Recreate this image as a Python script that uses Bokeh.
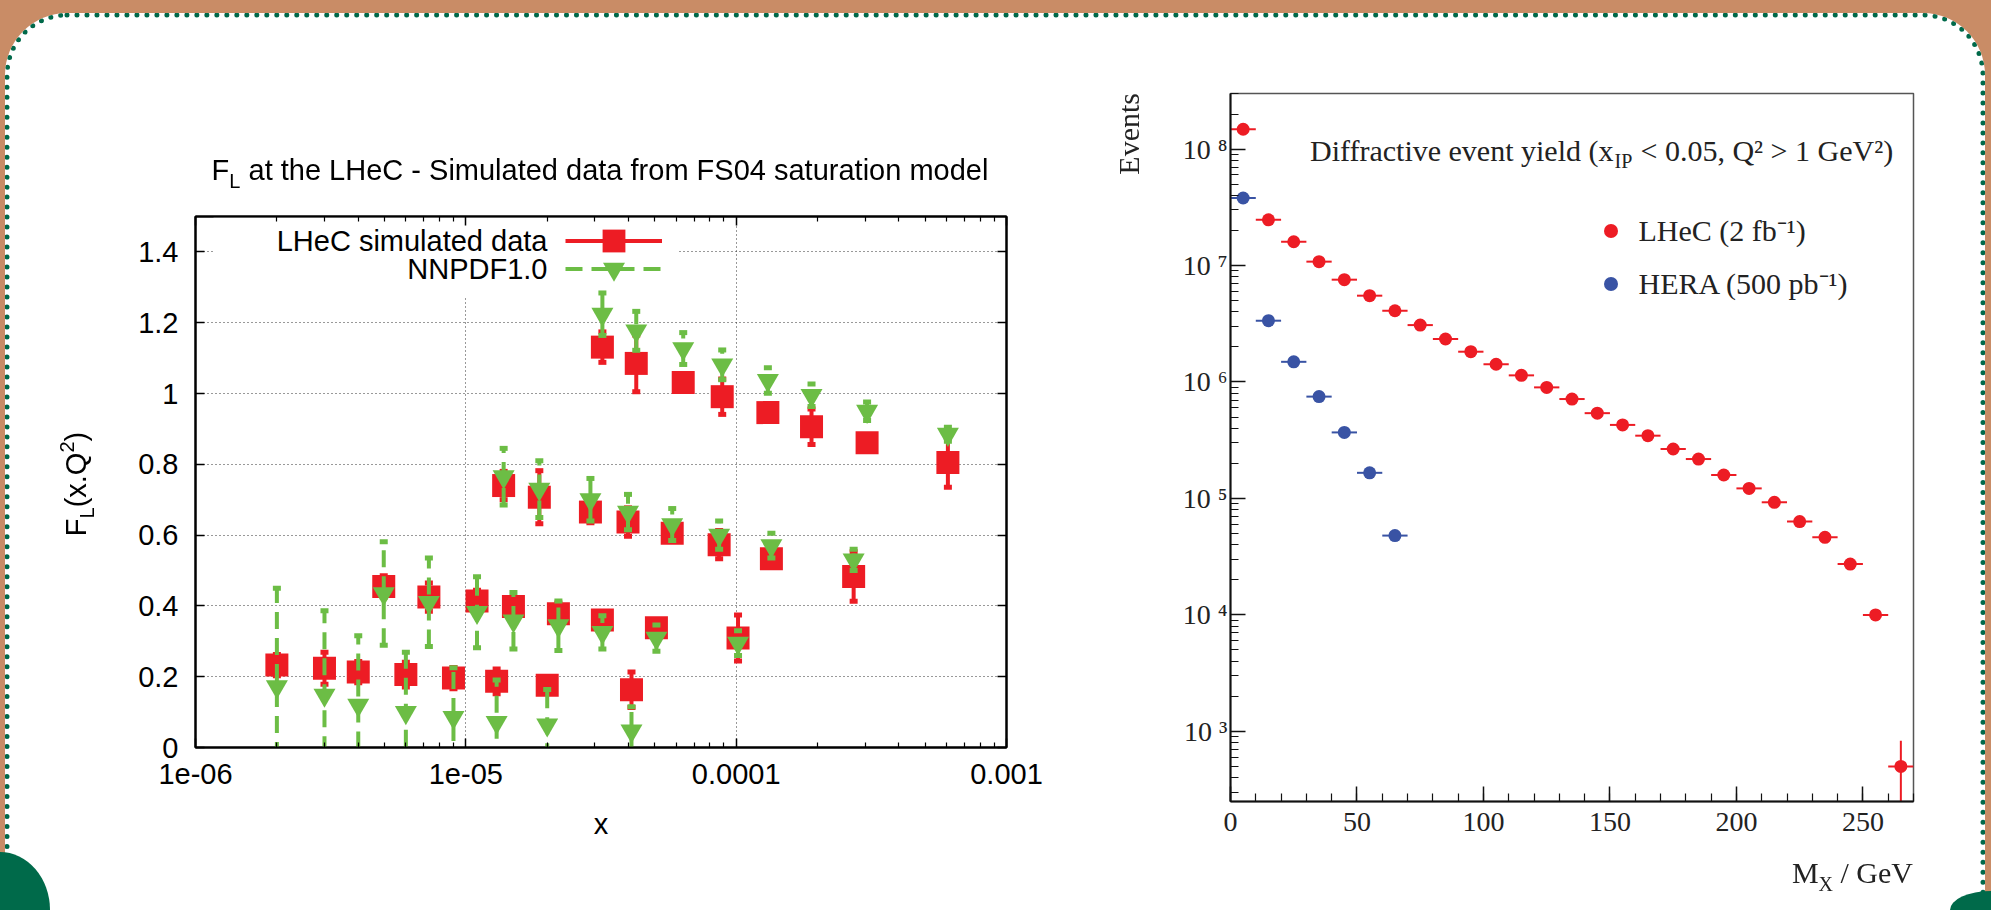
import numpy as np
from bokeh.plotting import figure
from bokeh.models import (LogAxis, LinearAxis, FixedTicker, CustomJSTickFormatter, Div,
                          Label, BoxAnnotation, Legend, LegendItem, ColumnDataSource, Range1d)
from bokeh.layouts import row, column
from bokeh.embed import file_html
from bokeh.resources import INLINE
from bokeh.core.properties import value

# ---------------- left chart: F_L at the LHeC ----------------
fl_x = [2.0e-6, 3.0e-6, 4.0e-6, 6.0e-6, 9.0e-6, 1.3e-5, 2.0e-5, 4.1e-5,
        4.97e-6, 7.3e-6, 1.1e-5, 1.5e-5, 2.2e-5, 3.2e-5, 5.07e-5, 1.016e-4,
        1.38e-5, 1.87e-5, 2.89e-5, 3.98e-5, 5.8e-5, 8.65e-5, 1.35e-4, 2.72e-4,
        3.2e-5, 4.27e-5, 6.37e-5, 8.88e-5, 1.31e-4, 1.9e-4, 3.05e-4, 6.07e-4]
lhec_fl = [0.233, 0.224, 0.213, 0.206, 0.196, 0.187, 0.176, 0.163,
           0.455, 0.425, 0.414, 0.398, 0.378, 0.360, 0.338, 0.309,
           0.740, 0.707, 0.665, 0.637, 0.605, 0.573, 0.533, 0.483,
           1.131, 1.085, 1.031, 0.991, 0.946, 0.906, 0.861, 0.805]
lhec_err = [0.030, 0.045, 0.030, 0.035, 0.030, 0.035, 0.020, 0.050,
            0.030, 0.040, 0.030, 0.020, 0.030, 0.020, 0.020, 0.065,
            0.040, 0.075, 0.030, 0.040, 0.020, 0.040, 0.020, 0.070,
            0.043, 0.080, 0.020, 0.050, 0.020, 0.050, 0.020, 0.070]
nnpdf_fl = [0.172, 0.148, 0.120, 0.099, 0.085, 0.071, 0.064, 0.047,
            0.435, 0.410, 0.382, 0.358, 0.344, 0.325, 0.309, 0.295,
            0.765, 0.730, 0.700, 0.665, 0.630, 0.600, 0.570, 0.530,
            1.224, 1.177, 1.127, 1.081, 1.037, 0.995, 0.950, 0.885]
nnpdf_err = [0.278, 0.238, 0.196, 0.170, 0.140, 0.120, 0.100, 0.068,
             0.146, 0.125, 0.100, 0.080, 0.070, 0.047, 0.037, 0.035,
             0.080, 0.080, 0.060, 0.050, 0.045, 0.040, 0.035, 0.030,
             0.060, 0.055, 0.045, 0.042, 0.036, 0.032, 0.026, 0.020]
fl_xticks = [1e-6, 1e-5, 1e-4, 1e-3]
fl_yticks = [0.0, 0.2, 0.4, 0.6, 0.8, 1.0, 1.2, 1.4]

# ---------------- right chart: diffractive event yield ----------------
mx_lhec = [5, 15, 25, 35, 45, 55, 65, 75, 85, 95, 105, 115, 125, 135, 145,
           155, 165, 175, 185, 195, 205, 215, 225, 235, 245, 255, 265]
events_lhec = [1.48e8, 2.47e7, 1.60e7, 1.08e7, 7.56e6, 5.51e6, 4.09e6, 3.08e6,
               2.34e6, 1.82e6, 1.42e6, 1.14e6, 8.99e5, 7.14e5, 5.40e5, 4.28e5,
               3.46e5, 2.66e5, 2.18e5, 1.59e5, 1.22e5, 9.27e4, 6.33e4, 4.64e4,
               2.73e4, 1.00e4, 500.0]
events_lhec_err = [0, 0, 0, 0, 0, 0, 0, 0, 0, 0, 0, 0, 0, 0, 0, 0, 0, 0, 0, 0,
                   0, 0, 0, 0, 0, 0, 330.0]
mx_hera = [5, 15, 25, 35, 45, 55, 65]
events_hera = [3.80e7, 3.36e6, 1.49e6, 7.49e5, 3.69e5, 1.66e5, 4.80e4]
bin_half_width = 5.0
mx_ticks = [0, 50, 100, 150, 200, 250]
ev_ticks = [1e3, 1e4, 1e5, 1e6, 1e7, 1e8]

SANS = "Liberation Sans"
SERIF = "Liberation Serif"
RED = "#ed1c24"
GREEN = "#6cbd45"
BLUE = "#3953a4"
TXT2 = "#222222"

OX, OY = 0, 0  # page origin of the layout (the page template has no body margin)


def add_label(p, frame_left, frame_bottom, xp, yp, text, font, size,
              align="left", color="black"):
    p.add_layout(Label(x=xp - frame_left, y=frame_bottom - yp,
                       x_units="screen", y_units="screen", text=text,
                       text_font=font, text_font_size=f"{size}px",
                       text_align=align, text_baseline="middle", text_color=color))


def key_sample(p, renderers, cx, cy, gw, gh, frame_left, frame_bottom):
    leg = Legend(items=[LegendItem(label=value(" "), renderers=renderers)],
                 location=(cx - frame_left - gw / 2, frame_bottom - cy - gh / 2),
                 glyph_width=gw, glyph_height=gh, padding=0, margin=0, spacing=0,
                 label_standoff=0, label_width=0, label_height=0,
                 label_text_font_size="1px", border_line_color=None,
                 background_fill_alpha=0.0)
    p.add_layout(leg)


# ======================= LEFT FIGURE =======================
W1, H1 = 1113, 905
L1, R1, T1 = 195, 107, 216
B1 = H1 - T1 - 531
p1 = figure(width=W1, height=H1, x_axis_type="log",
            x_range=Range1d(fl_xticks[0], fl_xticks[-1]), y_range=Range1d(0, 1.5),
            output_backend="svg", toolbar_location=None,
            min_border_left=L1, min_border_right=R1, min_border_top=T1, min_border_bottom=B1)
p1.frame_align = False
p1.background_fill_color = "white"
p1.border_fill_color = "white"
p1.outline_line_color = "black"
p1.outline_line_width = 2

fl_minor = [m * t for t in fl_xticks[:-1] for m in range(2, 10)]
xtick1 = FixedTicker(ticks=fl_xticks, minor_ticks=fl_minor)
ytick1 = FixedTicker(ticks=fl_yticks, minor_ticks=[])
empty_fmt = CustomJSTickFormatter(code="return '';")

xb = p1.xaxis[0]
xb.ticker = xtick1
xb.formatter = CustomJSTickFormatter(code="""
const e = Math.round(Math.log10(tick));
if (e <= -5) { return '1e-0' + (-e); }
return tick.toFixed(-e);
""")
yl = p1.yaxis[0]
yl.ticker = ytick1
yl.formatter = CustomJSTickFormatter(code="return (Math.round(tick*10)/10).toString();")

xt = LogAxis(ticker=xtick1, formatter=empty_fmt)
yr = LinearAxis(ticker=ytick1, formatter=empty_fmt)
p1.add_layout(xt, "above")
p1.add_layout(yr, "right")

for ax in (xb, xt, yl, yr):
    ax.axis_line_color = "black"
    ax.axis_line_width = 2
    ax.major_tick_in = 9
    ax.major_tick_out = 0
    ax.minor_tick_in = 5
    ax.minor_tick_out = 0
    ax.major_tick_line_color = "black"
    ax.major_tick_line_width = 1.5
    ax.minor_tick_line_color = "black"
    ax.minor_tick_line_width = 1.2
    ax.major_label_text_font = SANS
    ax.major_label_text_font_size = "29px"
    ax.major_label_text_color = "black"
xb.major_label_standoff = 16
yl.major_label_standoff = 17
xb.axis_label = "x"
xb.axis_label_text_font = SANS
xb.axis_label_text_font_size = "29px"
xb.axis_label_text_font_style = "normal"
xb.axis_label_text_color = "black"
xb.axis_label_standoff = 21

p1.xgrid.ticker = xtick1
p1.ygrid.ticker = ytick1
for g in (p1.xgrid, p1.ygrid):
    g.grid_line_color = "#333333"
    g.grid_line_width = 1
    g.grid_line_dash = "1 3"

FL1, FB1 = OX + L1, OY + T1 + 531  # frame left / bottom on the page
# white key box hiding the grid behind the key
p1.add_layout(BoxAnnotation(left=213 - FL1, right=678 - FL1, top=FB1 - 217, bottom=FB1 - 296,
                            left_units="screen", right_units="screen",
                            top_units="screen", bottom_units="screen",
                            fill_color="white", fill_alpha=1.0, line_color=None,
                            level="underlay"))

fx = np.array(fl_x)
lf, le = np.array(lhec_fl), np.array(lhec_err)
nf, ne = np.array(nnpdf_fl), np.array(nnpdf_err)
src_l = ColumnDataSource(dict(x=fx, y=lf, lo=lf - le, hi=lf + le))
src_n = ColumnDataSource(dict(x=fx, y=nf, lo=nf - ne, hi=nf + ne))

r_lseg = p1.segment(x0="x", y0="lo", x1="x", y1="hi", source=src_l, line_color=RED, line_width=4)
p1.scatter(x="x", y="lo", source=src_l, marker="dash", size=8, line_color=RED, line_width=5)
p1.scatter(x="x", y="hi", source=src_l, marker="dash", size=8, line_color=RED, line_width=5)
r_lsq = p1.scatter(x="x", y="y", source=src_l, marker="square", size=23, fill_color=RED, line_color=None)

r_nseg = p1.segment(x0="x", y0="lo", x1="x", y1="hi", source=src_n, line_color=GREEN,
                    line_width=4, line_dash="17 9")
p1.scatter(x="x", y="lo", source=src_n, marker="dash", size=8, line_color=GREEN, line_width=5)
p1.scatter(x="x", y="hi", source=src_n, marker="dash", size=8, line_color=GREEN, line_width=5)
r_ntri = p1.scatter(x="x", y="y", source=src_n, marker="inverted_triangle", size=22,
                    fill_color=GREEN, line_color=None)

key_sample(p1, [r_lseg, r_lsq], 613, 240, 97, 57, FL1, FB1)
key_sample(p1, [r_nseg, r_ntri], 613, 268, 97, 55, FL1, FB1)
add_label(p1, FL1, FB1, 547, 240, "LHeC simulated data", SANS, 29, align="right")
add_label(p1, FL1, FB1, 547, 268, "NNPDF1.0", SANS, 29, align="right")

# ======================= RIGHT FIGURE =======================
W2, H2 = 872, 905
L2, T2 = 117, 93
R2 = W2 - L2 - 683
B2 = H2 - T2 - 708
p2 = figure(width=W2, height=H2, y_axis_type="log",
            x_range=Range1d(0, 270), y_range=Range1d(250, 3.0e8),
            output_backend="svg", toolbar_location=None,
            min_border_left=L2, min_border_right=R2, min_border_top=T2, min_border_bottom=B2)
p2.frame_align = False
p2.background_fill_color = "white"
p2.border_fill_color = "white"
p2.outline_line_color = "#555555"
p2.outline_line_width = 1.5
p2.grid.visible = False

xa2, ya2 = p2.xaxis[0], p2.yaxis[0]
xa2.ticker = FixedTicker(ticks=mx_ticks, minor_ticks=list(range(0, 271, 10)))
ev_minor = [m * 10.0 ** e for e in range(2, 9) for m in range(2, 10)]
ya2.ticker = FixedTicker(ticks=ev_ticks, minor_ticks=ev_minor)
ya2.formatter = CustomJSTickFormatter(code="""
const s = {'0':'\u2070','1':'\u00b9','2':'\u00b2','3':'\u00b3','4':'\u2074','5':'\u2075',
           '6':'\u2076','7':'\u2077','8':'\u2078','9':'\u2079','-':'\u207b'};
const e = Math.round(Math.log10(tick));
return '10 ' + String(e).split('').map(c => s[c]).join('');
""")
for ax in (xa2, ya2):
    ax.axis_line_color = "#111111"
    ax.axis_line_width = 2
    ax.major_tick_in = 15
    ax.major_tick_out = 0
    ax.minor_tick_in = 8
    ax.minor_tick_out = 0
    ax.major_tick_line_color = "#111111"
    ax.major_tick_line_width = 1.5
    ax.minor_tick_line_color = "#111111"
    ax.minor_tick_line_width = 1.2
    ax.major_label_text_font = SERIF
    ax.major_label_text_font_size = "28px"
    ax.major_label_text_color = TXT2
xa2.major_label_standoff = 11
ya2.major_label_standoff = 3

ml = np.array(mx_lhec, dtype=float)
el = np.array(events_lhec)
ee = np.array(events_lhec_err)
mh = np.array(mx_hera, dtype=float)
eh = np.array(events_hera)
src_r = ColumnDataSource(dict(x=ml, y=el, x0=ml - bin_half_width, x1=ml + bin_half_width,
                              lo=np.maximum(el - ee, 1.0), hi=el + ee))
src_h = ColumnDataSource(dict(x=mh, y=eh, x0=mh - bin_half_width, x1=mh + bin_half_width))

p2.segment(x0="x0", y0="y", x1="x1", y1="y", source=src_r, line_color=RED, line_width=2)
p2.segment(x0="x", y0="lo", x1="x", y1="hi", source=src_r, line_color=RED, line_width=2)
r_red = p2.scatter(x="x", y="y", source=src_r, marker="circle", size=13,
                   fill_color=RED, line_color=None)
p2.segment(x0="x0", y0="y", x1="x1", y1="y", source=src_h, line_color=BLUE, line_width=2)
r_blue = p2.scatter(x="x", y="y", source=src_h, marker="circle", size=13,
                    fill_color=BLUE, line_color=None)

FL2, FB2 = OX + W1 + L2, OY + T2 + 708
key_sample(p2, [r_red], 1610, 230, 35, 35, FL2, FB2)
key_sample(p2, [r_blue], 1610, 283, 35, 35, FL2, FB2)
add_label(p2, FL2, FB2, 1638, 230, "LHeC (2 fb⁻¹)", SERIF, 30, color=TXT2)
add_label(p2, FL2, FB2, 1638, 283, "HERA (500 pb⁻¹)", SERIF, 30, color=TXT2)
add_label(p2, FL2, FB2, 1613, 150, "Diffractive event yield (x", SERIF, 30, align="right", color=TXT2)
add_label(p2, FL2, FB2, 1614, 160, "IP", SERIF, 20, color=TXT2)
add_label(p2, FL2, FB2, 1640, 150, "< 0.05, Q² > 1 GeV²)", SERIF, 30, color=TXT2)

# ============ slide frame + texts outside the plot frames (HTML, real text) ============
def span(style, html):
    return (f'<span style="position:fixed;white-space:nowrap;line-height:1;z-index:30;'
            f'pointer-events:none;{style}">{html}</span>')

sub20 = 'font-size:20px;position:relative;top:{}px'
html = "".join([
    # rounded white slide with dotted green border, brown outside
    '<div style="position:fixed;left:5px;top:13px;width:1980px;height:1100px;box-sizing:border-box;'
    'border:5px dotted #00694a;border-radius:62px;box-shadow:0 0 0 90px #c98c66;'
    'pointer-events:none;z-index:20;"></div>',
    '<div style="position:fixed;left:0px;top:852px;width:50px;height:58px;background:#006a4a;'
    'border-top-right-radius:100%;pointer-events:none;z-index:21;"></div>',
    '<div style="position:fixed;left:1950px;top:891px;width:41px;height:19px;background:#006a4a;'
    'border-top-left-radius:100%;pointer-events:none;z-index:21;"></div>',
    # left chart title
    span(f"left:600px;top:170px;transform:translate(-50%,-50%);font-family:'{SANS}';font-size:29px;color:black;",
         f'F<span style="{sub20.format(8)}">L</span> at the LHeC - Simulated data from FS04 saturation model'),
    # left y axis title
    span(f"left:76px;top:484px;transform:translate(-50%,-50%) rotate(-90deg);font-family:'{SANS}';font-size:29px;color:black;",
         f'F<span style="{sub20.format(8)}">L</span>(x.Q<span style="{sub20.format(-12)}">2</span>)'),
    # right y axis title
    span(f"left:1129px;top:93px;transform:translate(-50%,-50%) rotate(-90deg) translateX(-50%);font-family:'{SERIF}';font-size:30px;color:{TXT2};",
         'Events'),
    # right x axis title
    span(f"left:1913px;top:873px;transform:translate(-100%,-50%);font-family:'{SERIF}';font-size:30px;color:{TXT2};",
         f'M<span style="{sub20.format(8)}">X</span> / GeV'),
])
deco = Div(text=html, width=0, height=0, margin=(0, 0, 0, 0))

layout = column(deco, row(p1, p2))
open("out.html", "w").write(file_html(layout, INLINE))
